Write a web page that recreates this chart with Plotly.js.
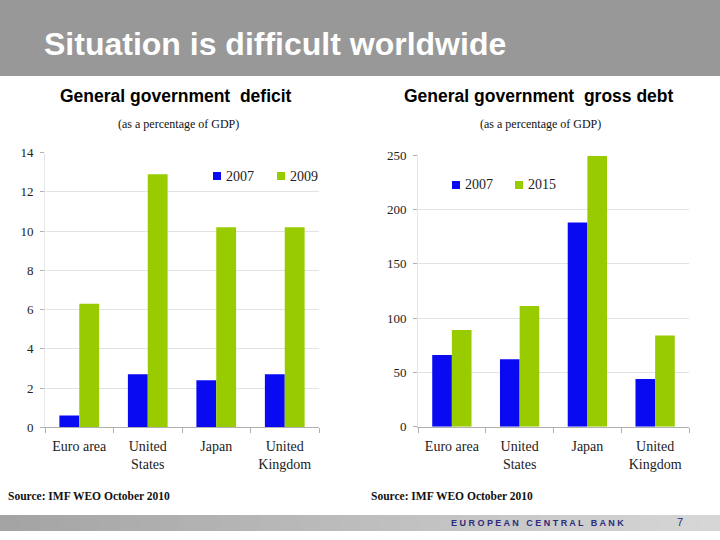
<!DOCTYPE html>
<html><head><meta charset="utf-8">
<script src="https://cdn.plot.ly/plotly-3.0.1.min.js"></script>
<style>body{margin:0;background:#fff}#c{width:720px;height:540px}</style>
</head><body><div id="c"></div>
<script>
const categories = ["Euro area", "United<br>States", "Japan", "United<br>Kingdom"];
const deficitYears = ["2007", "2009"];
const deficit2007 = [0.6, 2.7, 2.4, 2.7];
const deficit2009 = [6.3, 12.9, 10.2, 10.2];
const debtYears = ["2007", "2015"];
const debt2007 = [66, 62, 188, 44];
const debt2015 = [89, 111, 249, 84];
const deficitTicks = [0, 2, 4, 6, 8, 10, 12, 14];
const debtTicks = [0, 50, 100, 150, 200, 250];

const BLUE = "#0a0af2", GREEN = "#99cc00";
const serif = "Liberation Serif, Times New Roman, serif";
const sans = "Liberation Sans, Arial, sans-serif";

function bar(x, y, name, color, xa, ya) {
  return {type: "bar", x: x, y: y, name: name, marker: {color: color, line: {width: 0}},
          xaxis: xa, yaxis: ya, showlegend: false, hoverinfo: "skip"};
}
const traces = [
  bar(categories, deficit2007, deficitYears[0], BLUE, "x", "y"),
  bar(categories, deficit2009, deficitYears[1], GREEN, "x", "y"),
  bar(categories, debt2007, debtYears[0], BLUE, "x2", "y2"),
  bar(categories, debt2015, debtYears[1], GREEN, "x2", "y2")
];

const W = 720, H = 540;
const px = v => v / W, py = v => 1 - v / H;

const xaxisBase = {type: "category", tickson: "boundaries", ticks: "outside", ticklen: 5,
  tickcolor: "#b0b0b0", showline: true, linecolor: "#b0b0b0", showgrid: false,
  ticklabelstandoff: 6,
  tickfont: {family: serif, size: 14, color: "#222"}, fixedrange: true};
const yaxisBase = {showline: true, linecolor: "#e6e6e6", ticks: "outside", ticklen: 4,
  tickcolor: "#b0b0b0", showgrid: true, gridcolor: "#e3e3e3", zeroline: false,
  ticklabelstandoff: 4,
  tickfont: {family: serif, size: 13, color: "#222"}, fixedrange: true};

const shapes = [
  {type: "rect", xref: "paper", yref: "paper", x0: 0, x1: 1, y0: py(76), y1: 1,
   fillcolor: "#989898", line: {width: 0}, layer: "below"}
];
const N = 36;
for (let i = 0; i < N; i++) {
  const t = i / (N - 1);
  const c = Math.round(0xa4 + (0xd6 - 0xa4) * t);
  const hex = c.toString(16);
  shapes.push({type: "rect", xref: "paper", yref: "paper", x0: i / N, x1: (i + 1) / N + 0.002,
    y0: py(531), y1: py(515), fillcolor: "#" + hex + hex + hex, line: {width: 0}, layer: "below"});
}

const annotations = [
  {text: "<b>Situation is difficult worldwide</b>", x: px(42), y: py(44), xref: "paper", yref: "paper",
   xanchor: "left", yanchor: "middle", showarrow: false, font: {family: sans, size: 32, color: "#fff"}},
  {text: "<b>General government  deficit</b>", x: px(176), y: py(96), xref: "paper", yref: "paper",
   xanchor: "center", yanchor: "middle", showarrow: false, font: {family: sans, size: 17.5, color: "#000"}},
  {text: "(as a percentage of GDP)", x: px(178), y: py(124), xref: "paper", yref: "paper",
   xanchor: "center", yanchor: "middle", showarrow: false, font: {family: serif, size: 12, color: "#111"}},
  {text: "<b>General government  gross debt</b>", x: px(539), y: py(96), xref: "paper", yref: "paper",
   xanchor: "center", yanchor: "middle", showarrow: false, font: {family: sans, size: 17.5, color: "#000"}},
  {text: "(as a percentage of GDP)", x: px(540), y: py(124), xref: "paper", yref: "paper",
   xanchor: "center", yanchor: "middle", showarrow: false, font: {family: serif, size: 12, color: "#111"}},
  {text: "<b>Source: IMF WEO October 2010</b>", x: px(6), y: py(496), xref: "paper", yref: "paper",
   xanchor: "left", yanchor: "middle", showarrow: false, font: {family: serif, size: 11.5, color: "#111"}},
  {text: "<b>Source: IMF WEO October 2010</b>", x: px(369), y: py(496), xref: "paper", yref: "paper",
   xanchor: "left", yanchor: "middle", showarrow: false, font: {family: serif, size: 11.5, color: "#111"}},
  {text: "<b>E U R O P E A N   C E N T R A L   B A N K</b>", x: px(537), y: py(523), xref: "paper", yref: "paper",
   xanchor: "center", yanchor: "middle", showarrow: false, font: {family: sans, size: 9, color: "#2c2c7c"}},
  {text: "7", x: px(680), y: py(522), xref: "paper", yref: "paper",
   xanchor: "center", yanchor: "middle", showarrow: false, font: {family: sans, size: 11, color: "#2c2c7c"}}
];

// legends (drawn as key squares + labels)
function legendItem(label, color, xSq, yC) {
  shapes.push({type: "rect", xref: "paper", yref: "paper", x0: px(xSq), x1: px(xSq + 8),
    y0: py(yC + 4), y1: py(yC - 4), fillcolor: color, line: {width: 0}});
  annotations.push({text: label, x: px(xSq + 11), y: py(yC), xref: "paper", yref: "paper",
    xanchor: "left", yanchor: "middle", showarrow: false, font: {family: serif, size: 14, color: "#222"}});
}
legendItem(deficitYears[0], BLUE, 213, 176);
legendItem(deficitYears[1], GREEN, 277, 176);
legendItem(debtYears[0], BLUE, 452, 185);
legendItem(debtYears[1], GREEN, 515, 185);

const layout = {
  width: W, height: H, margin: {l: 0, r: 0, t: 0, b: 0},
  paper_bgcolor: "#fff", plot_bgcolor: "rgba(0,0,0,0)",
  barmode: "group", bargap: 0.42, bargroupgap: 0, showlegend: false,
  xaxis: Object.assign({}, xaxisBase, {domain: [px(45), px(319)], anchor: "y"}),
  yaxis: Object.assign({}, yaxisBase, {domain: [py(427.3), py(152.7)], range: [0, 14],
    tickvals: deficitTicks, anchor: "x"}),
  xaxis2: Object.assign({}, xaxisBase, {domain: [px(418), px(689)], anchor: "y2"}),
  yaxis2: Object.assign({}, yaxisBase, {domain: [py(426.7), py(155)], range: [0, 250],
    tickvals: debtTicks, anchor: "x2"}),
  shapes: shapes, annotations: annotations
};
Plotly.newPlot("c", traces, layout, {displayModeBar: false, staticPlot: true});
</script></body></html>
